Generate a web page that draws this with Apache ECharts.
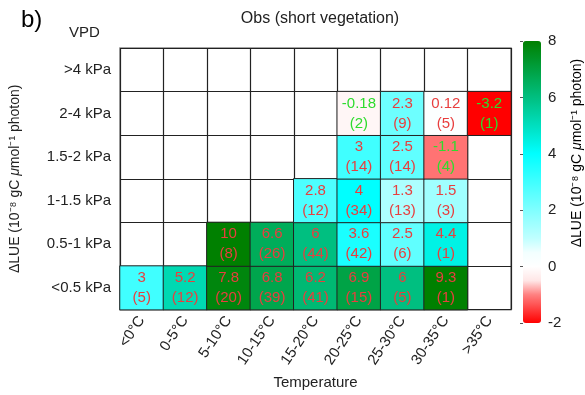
<!DOCTYPE html>
<html><head><meta charset="utf-8">
<script src="https://cdn.jsdelivr.net/npm/echarts@6/dist/echarts.min.js"></script>
<style>html,body{margin:0;padding:0;background:#fff}#c{width:585px;height:395px}</style>
</head><body><div id="c"></div>
<script>
const tempCats = ['<0°C','0-5°C','5-10°C','10-15°C','15-20°C','20-25°C','25-30°C','30-35°C','>35°C'];
const vpdCats = ['<0.5 kPa','0.5-1 kPa','1-1.5 kPa','1.5-2 kPa','2-4 kPa','>4 kPa'];
// LUE values per VPD row (bottom to top), null = no data
const lue_lt05  = [3, 5.2, 7.8, 6.8, 6.2, 6.9, 6, 9.3, null];
const lue_05_1  = [null, null, 10, 6.6, 6, 3.6, 2.5, 4.4, null];
const lue_1_15  = [null, null, null, null, 2.8, 4, 1.3, 1.5, null];
const lue_15_2  = [null, null, null, null, null, 3, 2.5, -1.1, null];
const lue_2_4   = [null, null, null, null, null, -0.18, 2.3, 0.12, -3.2];
const lue_gt4   = [null, null, null, null, null, null, null, null, null];
// sample counts
const n_lt05 = [5, 12, 20, 39, 41, 15, 5, 1, null];
const n_05_1 = [null, null, 8, 26, 44, 42, 6, 1, null];
const n_1_15 = [null, null, null, null, 12, 34, 13, 3, null];
const n_15_2 = [null, null, null, null, null, 14, 14, 4, null];
const n_2_4  = [null, null, null, null, null, 2, 9, 5, 1];
const n_gt4  = [null, null, null, null, null, null, null, null, null];
const cbMin = -2, cbMax = 8;

const lueRows = [lue_lt05, lue_05_1, lue_1_15, lue_15_2, lue_2_4, lue_gt4];
const nRows = [n_lt05, n_05_1, n_1_15, n_15_2, n_2_4, n_gt4];
const data = [];
lueRows.forEach((row, y) => row.forEach((v, x) => {
  if (v !== null) data.push([x, y, v, nRows[y][x], Math.max(cbMin, Math.min(cbMax, v))]);
}));

const chart = echarts.init(document.getElementById('c'));
const nameRich = {
  n: {fontSize: 14, color: '#222'},
  i: {fontSize: 14, color: '#222', fontStyle: 'italic'}
};
const cbName = '{n|ΔLUE (10⁻⁸ gC }{i|μ}{n|mol⁻¹ photon)}';
chart.setOption({
  animation: false,
  textStyle: {fontFamily: 'Liberation Sans, Arial, sans-serif'},
  title: [
    {text: 'b)', left: 16, top: 3, textStyle: {fontSize: 24, fontWeight: 'normal', color: '#000'}},
    {text: 'VPD', left: 64, top: 20, textStyle: {fontSize: 15, fontWeight: 'normal', color: '#222'}},
    {text: 'Obs (short vegetation)', left: 315, top: 6, textAlign: 'center', textStyle: {fontSize: 16, fontWeight: 'normal', color: '#222'}}
  ],
  graphic: [{
    type: 'text', x: 577, y: 153, rotation: Math.PI / 2,
    style: {text: cbName, rich: nameRich, align: 'center', verticalAlign: 'middle', fontFamily: 'Liberation Sans, Arial, sans-serif'}
  }],
  grid: [
    {left: 119, right: 74, top: 48, bottom: 83, show: true, borderColor: '#888', borderWidth: 1.5},
    {left: 523, width: 18, top: 41, height: 282}
  ],
  xAxis: [
    {type: 'category', data: tempCats, gridIndex: 0,
     axisLine: {show: false}, axisTick: {show: false},
     splitLine: {show: true, interval: 0, lineStyle: {color: '#222', width: 1.2}},
     axisLabel: {interval: 0, rotate: 56, fontSize: 15, color: '#222', margin: 8},
     name: 'Temperature', nameLocation: 'middle', nameGap: 61, nameTextStyle: {fontSize: 15, color: '#222'}},
    {type: 'value', gridIndex: 1, show: false, min: 0, max: 1}
  ],
  yAxis: [
    {type: 'category', data: vpdCats, gridIndex: 0,
     axisLine: {show: false}, axisTick: {show: false},
     splitLine: {show: true, interval: 0, lineStyle: {color: '#222', width: 1.2}},
     axisLabel: {interval: 0, fontSize: 15, color: '#222', margin: 9},
     name: cbName, nameLocation: 'middle', nameGap: 98, nameRotate: 90, nameTextStyle: {rich: nameRich}},
    {type: 'value', gridIndex: 1, min: cbMin, max: cbMax, interval: 2, position: 'right',
     axisLine: {show: false}, splitLine: {show: false},
     axisTick: {show: true, inside: true, length: 3, lineStyle: {color: '#555'}},
     axisLabel: {fontSize: 15, color: '#222', margin: 7}}
  ],
  visualMap: {
    type: 'continuous', min: cbMin, max: cbMax, dimension: 4, seriesIndex: 0,
    calculable: false, text: null, showLabel: false,
    left: 523, top: 41, padding: 0, itemWidth: 18, itemHeight: 282,
    inRange: {color: ['#ff0000', '#ff4040', '#ff8080', '#ffe6e6', '#ffffff', '#f2ffff', '#c0ffff', '#a0ffff', '#80ffff', '#60ffff', '#40ffff', '#20ffff', '#00ffff', '#00efdf', '#00dfbf', '#00cf9f', '#00bf80', '#00b060', '#00a040', '#009020', '#008000']}
  },
  series: [{
    type: 'heatmap', xAxisIndex: 0, yAxisIndex: 0, data: data,
    itemStyle: {borderColor: '#222', borderWidth: 1},
    label: {
      show: true, lineHeight: 20, fontSize: 15,
      formatter: p => {
        const s = p.value[2] < 0 ? 'g' : 'r';
        return '{' + s + '|' + p.value[2] + '}\n{' + s + '|(' + p.value[3] + ')}';
      },
      rich: {r: {color: '#e83e3e', fontSize: 15, lineHeight: 20}, g: {color: '#2edc2e', fontSize: 15, lineHeight: 20}}
    },
    emphasis: {disabled: true}
  }]
});
</script></body></html>
